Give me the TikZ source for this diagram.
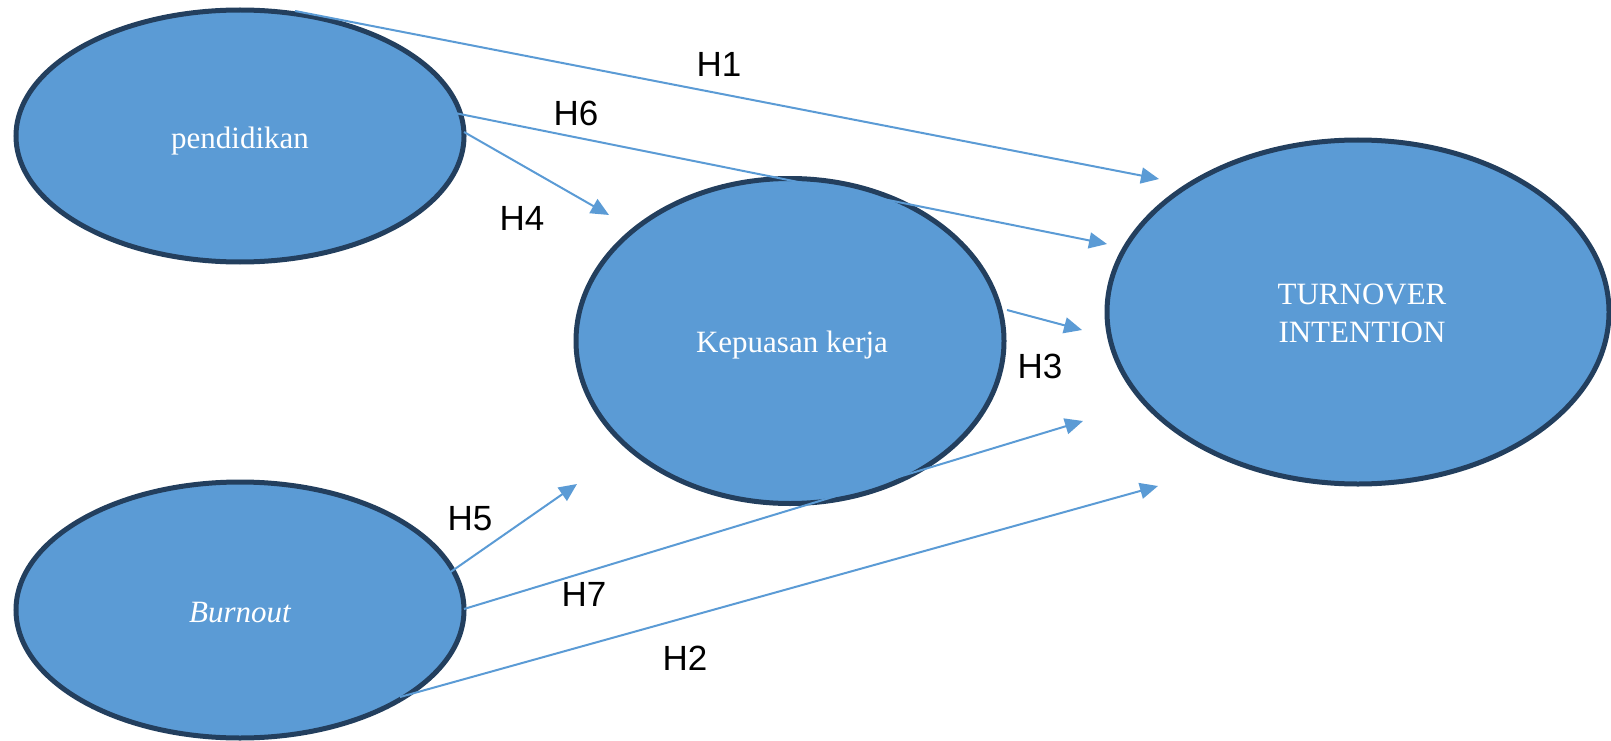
\documentclass[tikz,border=0pt]{standalone}
\usepackage{fontspec}
\setmainfont{Liberation Serif}
\newfontfamily\labfont{Liberation Sans}
\usetikzlibrary{shapes.geometric,arrows.meta}
\definecolor{fillblue}{RGB}{91,155,213}
\definecolor{edgenavy}{RGB}{35,63,94}
\definecolor{arrowblue}{RGB}{91,155,213}
\tikzset{
  construct/.style={ellipse, draw=edgenavy, line width=5pt, fill=fillblue, inner sep=0pt,
    text=white, font=\fontsize{31}{38}\selectfont, align=center},
  path/.style={draw=arrowblue, line width=2pt, -{Triangle[length=18pt,width=16pt]}},
  hlab/.style={font=\labfont\fontsize{35}{40}\selectfont, text=black, inner sep=0pt}
}
\begin{document}
\begin{tikzpicture}[x=1pt,y=-1pt]
\useasboundingbox (0,0) rectangle (1611,741);
\node[construct, minimum width=448pt, minimum height=252pt] (ped) at (240,136) {};
\node[construct, minimum width=448pt, minimum height=256pt] (burn) at (240,610) {};
\node[construct, minimum width=428pt, minimum height=325pt] (kep) at (790,341) {};
\node[construct, minimum width=502pt, minimum height=344pt] (turn) at (1358,312) {};
\node[text=white, font=\fontsize{31}{38}\selectfont] (tped) at (240,141) {pendidikan};
\node[text=white, font=\fontsize{31}{38}\selectfont\itshape] (tburn) at (240,613) {Burnout};
\node[text=white, font=\fontsize{31}{38}\selectfont] (tkep) at (792,345) {Kepuasan kerja};
\node[text=white, font=\fontsize{31}{38}\selectfont, align=center] (tturn) at (1362,313) {TURNOVER\\INTENTION};
% connector end points
\coordinate (s1) at (295,11);   \coordinate (e1) at (1159,179);
\coordinate (s6) at (405,103);  \coordinate (e6) at (1107,244);
\coordinate (s4) at (464,132);  \coordinate (e4) at (609,215);
\coordinate (s3) at (1007,310); \coordinate (e3) at (1082,330);
\coordinate (s7) at (464,609);  \coordinate (e7) at (1083,421);
\coordinate (s5) at (360,635);  \coordinate (e5) at (577,484);
\coordinate (s2) at (400,697);  \coordinate (e2) at (1158,486);
\draw[path] (s1) -- (e1);
\draw[path] (s6) -- (e6);
\draw[path] (s4) -- (e4);
\draw[path] (s3) -- (e3);
\draw[path] (s7) -- (e7);
\draw[path] (s5) -- (e5);
\draw[path] (s2) -- (e2);
\node[hlab] (h1) at (719,64) {H1};
\node[hlab] (h6) at (576,113) {H6};
\node[hlab] (h4) at (522,218) {H4};
\node[hlab] (h3) at (1040,366) {H3};
\node[hlab] (h5) at (470,519) {H5};
\node[hlab] (h7) at (584,594) {H7};
\node[hlab] (h2) at (685,658) {H2};
\end{tikzpicture}
\end{document}
